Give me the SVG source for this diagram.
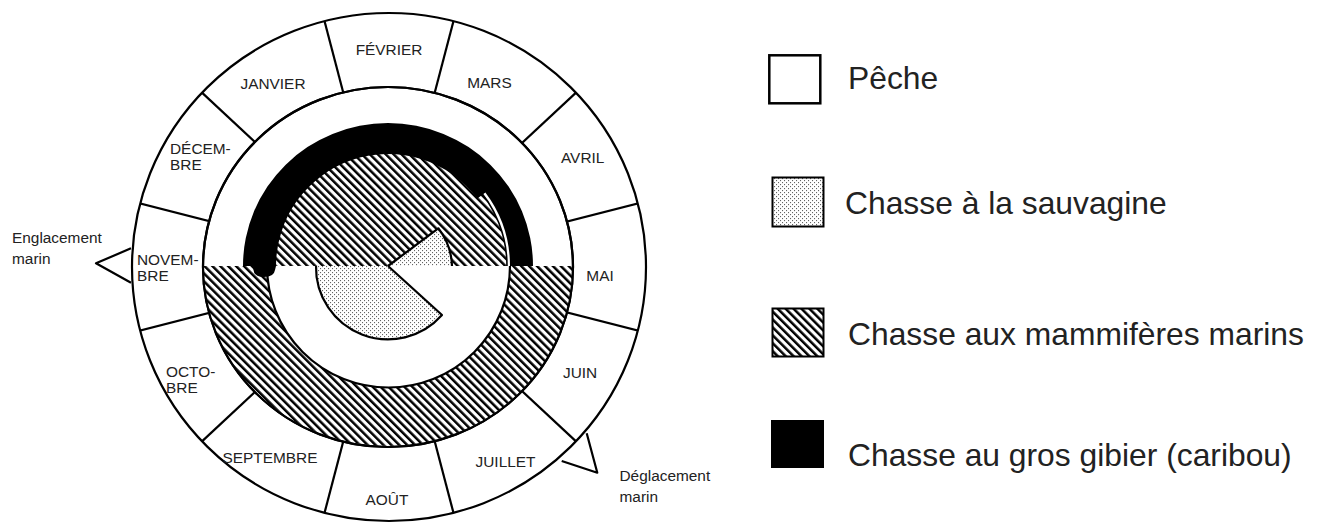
<svg xmlns="http://www.w3.org/2000/svg" width="1324" height="523" viewBox="0 0 1324 523">
  <defs>
    <pattern id="hatch" width="5.6" height="5.6" patternUnits="userSpaceOnUse" patternTransform="rotate(-45)">
      <rect width="5.6" height="5.6" fill="#fff"/>
      <rect width="2.5" height="5.6" fill="#000"/>
    </pattern>
    <pattern id="dots" width="4" height="4" patternUnits="userSpaceOnUse">
      <rect width="4" height="4" fill="#fff"/>
      <circle cx="0.6" cy="0.6" r="0.55" fill="#333"/>
      <circle cx="2.6" cy="2.6" r="0.55" fill="#333"/>
    </pattern>
    <clipPath id="wheelClip">
      <ellipse cx="389" cy="267" rx="257" ry="254"/>
    </clipPath>
  </defs>
  <style>
    .ln { stroke: #000; stroke-width: 2.2; stroke-linejoin: round; }
    .month { font-family: "Liberation Sans", Arial, sans-serif; font-size: 15.4px; fill: #222; }
    .mid { text-anchor: middle; }
    .note { font-family: "Liberation Sans", Arial, sans-serif; font-size: 15.4px; fill: #222; }
    .leg { font-family: "Liberation Sans", Arial, sans-serif; font-size: 31.8px; fill: #222; }
  </style>

  <rect width="1324" height="523" fill="#fff"/>

  <!-- month ring -->
  <g id="month-ring">
    <ellipse cx="389" cy="267" rx="257" ry="254" fill="#fff"/>
    <g clip-path="url(#wheelClip)" class="ln">
      <line x1="389" y1="267" x2="457.5" y2="5.8"/>
      <line x1="389" y1="267" x2="320.5" y2="5.8"/>
      <line x1="389" y1="267" x2="586.5" y2="82.9"/>
      <line x1="389" y1="267" x2="191.5" y2="82.9"/>
      <line x1="389" y1="267" x2="650.6" y2="200.3"/>
      <line x1="389" y1="267" x2="127.4" y2="200.3"/>
      <line x1="389" y1="267" x2="650.6" y2="333.7"/>
      <line x1="389" y1="267" x2="127.4" y2="333.7"/>
      <line x1="389" y1="267" x2="586.5" y2="451.1"/>
      <line x1="389" y1="267" x2="191.5" y2="451.1"/>
      <line x1="389" y1="267" x2="457.5" y2="528.2"/>
      <line x1="389" y1="267" x2="320.5" y2="528.2"/>
    </g>
    <ellipse cx="389" cy="267" rx="257" ry="254" fill="none" class="ln"/>
    <ellipse cx="388" cy="267" rx="185" ry="180" fill="#fff" class="ln"/>
  </g>

  <!-- month labels -->
  <g id="months">
    <text class="month mid" x="389" y="55">FÉVRIER</text>
    <text class="month mid" x="489.5" y="88">MARS</text>
    <text class="month" x="561" y="163">AVRIL</text>
    <text class="month mid" x="600" y="281">MAI</text>
    <text class="month" x="563" y="378">JUIN</text>
    <text class="month mid" x="505.5" y="467">JUILLET</text>
    <text class="month mid" x="387" y="505">AOÛT</text>
    <text class="month mid" x="270" y="463">SEPTEMBRE</text>
    <text class="month" x="166" y="377">OCTO-</text>
    <text class="month" x="166" y="393">BRE</text>
    <text class="month" x="137" y="265">NOVEM-</text>
    <text class="month" x="137" y="281">BRE</text>
    <text class="month" x="170" y="154">DÉCEM-</text>
    <text class="month" x="170" y="170">BRE</text>
    <text class="month mid" x="273" y="89">JANVIER</text>
  </g>

  <!-- marine mammal hunting: lower ring -->
  <g id="mammiferes-bas">
    <path d="M203,266 A185,180 0 0 0 573,266 L510,266 A121.5,121.5 0 0 1 267,266 Z" fill="url(#hatch)"/>
    <ellipse cx="388" cy="267" rx="185" ry="180" fill="none" class="ln"/>
    <path d="M510,266 A121.5,121.5 0 0 1 267,266" fill="none" class="ln"/>
  </g>

  <!-- marine mammal hunting: upper half disc -->
  <g id="mammiferes-haut">
    <path d="M271,266 A118,118 0 0 1 507,266 Z" fill="url(#hatch)"/>
    <path d="M271,266 A118,118 0 0 1 507,266" fill="none" stroke="#000" stroke-width="1.6"/>
  </g>

  <!-- caribou hunting: black band with rounded left end -->
  <g id="caribou">
    <path d="M243,266 A145,143 0 0 1 533,266 L510,266 A122,122 0 0 0 485.4,192.6 L477.4,198.6 A112,112 0 0 0 276,266 L275,270 Q274,277 264,277 Q254,277 253.5,270 L253,266 Z" fill="#000"/>
  </g>

  <!-- waterfowl hunting -->
  <g id="sauvagine">
    <path d="M388,266 L442,315 A72,72 0 0 1 316,266 Z" fill="url(#dots)"/>
    <path d="M388,266 L442,315 A72,72 0 0 1 316,266" fill="none" class="ln"/>
    <path d="M388,266 L438.3,228.3 A64,64 0 0 1 452,266 Z" fill="url(#dots)"/>
    <path d="M388,266 L438.3,228.3 A64,64 0 0 1 452,266" fill="none" class="ln"/>
  </g>

  <!-- sea ice markers -->
  <g id="englacement">
    <polyline points="131,248.3 96,263.3 131,282.7" fill="none" class="ln"/>
    <text class="note" x="12" y="243">Englacement</text>
    <text class="note" x="12" y="264">marin</text>
  </g>
  <g id="deglacement">
    <polyline points="586.7,433.3 597.3,472.7 561.7,461" fill="none" class="ln"/>
    <text class="note" x="619.5" y="481">Déglacement</text>
    <text class="note" x="619.5" y="502">marin</text>
  </g>

  <!-- legend -->
  <g id="legend-peche">
    <rect x="769.3" y="55.3" width="51" height="48" fill="#fff" stroke="#000" stroke-width="2.5"/>
    <text class="leg" x="848" y="89">Pêche</text>
  </g>
  <g id="legend-sauvagine">
    <rect x="772.5" y="177.5" width="51" height="49" fill="url(#dots)" stroke="#000" stroke-width="2"/>
    <text class="leg" x="845" y="214">Chasse à la sauvagine</text>
  </g>
  <g id="legend-mammiferes">
    <rect x="772.5" y="308.5" width="51" height="48" fill="url(#hatch)" stroke="#000" stroke-width="2"/>
    <text class="leg" x="848" y="345">Chasse aux mammifères marins</text>
  </g>
  <g id="legend-caribou">
    <rect x="771" y="420" width="53" height="48" fill="#000"/>
    <text class="leg" x="848" y="466">Chasse au gros gibier (caribou)</text>
  </g>
</svg>
